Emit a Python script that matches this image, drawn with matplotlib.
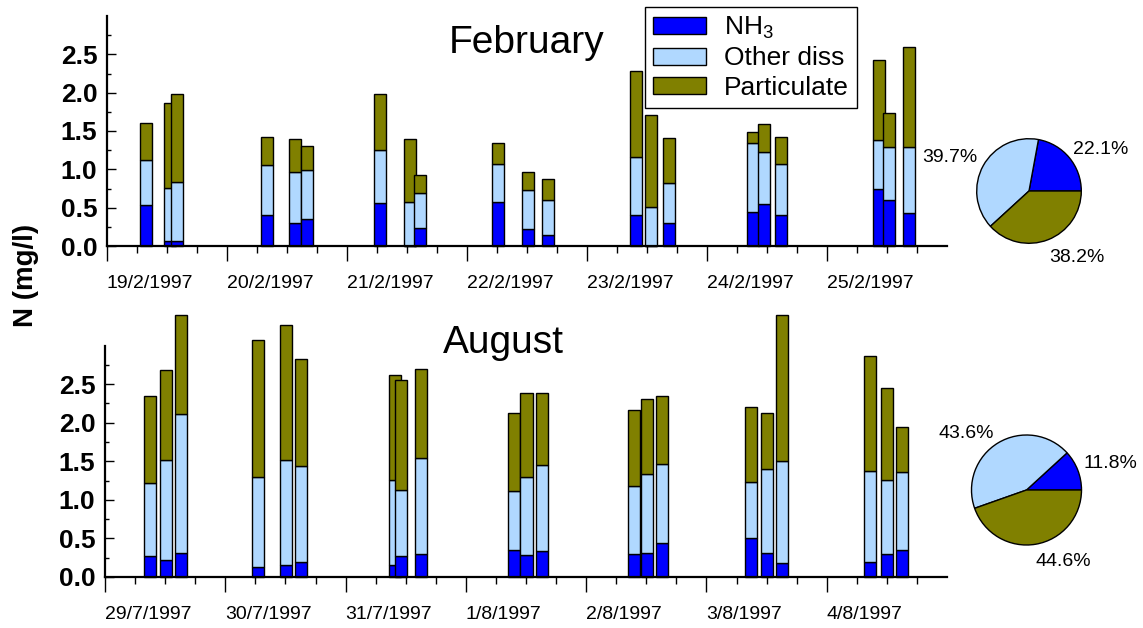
"""Stacked N fractions per sampling, February vs August, with mean-share pies."""

import matplotlib

matplotlib.use("Agg")
import matplotlib.pyplot as plt
import numpy as np
from matplotlib.patches import Patch

plt.rcParams["font.family"] = ["Liberation Sans", "DejaVu Sans"]
plt.rcParams["mathtext.default"] = "regular"

# --- data -------------------------------------------------------------
FEB_DAYS = ["19/2/1997", "20/2/1997", "21/2/1997", "22/2/1997",
            "23/2/1997", "24/2/1997", "25/2/1997"]
# sampling hour within each day, 3 samples per day
FEB_HOURS = [7.8, 12.5, 14.0, 8.0, 13.5, 15.9, 6.5, 12.5, 14.6,
             6.1, 12.1, 16.1, 9.8, 12.8, 16.3, 9.1, 11.3, 14.8,
             10.4, 12.4, 16.4]
FEB_NH3 = [0.53, 0.07, 0.07, 0.40, 0.30, 0.35, 0.56, 0.00, 0.23,
           0.57, 0.22, 0.15, 0.41, 0.00, 0.30, 0.44, 0.55, 0.41,
           0.75, 0.60, 0.43]
FEB_OTHER = [0.59, 0.69, 0.76, 0.66, 0.66, 0.64, 0.69, 0.57, 0.46,
             0.50, 0.51, 0.45, 0.75, 0.51, 0.52, 0.90, 0.67, 0.66,
             0.63, 0.69, 0.86]
FEB_PART = [0.49, 1.10, 1.15, 0.36, 0.44, 0.32, 0.73, 0.83, 0.24,
            0.28, 0.23, 0.28, 1.12, 1.20, 0.59, 0.15, 0.37, 0.35,
            1.04, 0.45, 1.31]
FEB_PIE = [22.1, 39.7, 38.2]

AUG_DAYS = ["29/7/1997", "30/7/1997", "31/7/1997", "1/8/1997",
            "2/8/1997", "3/8/1997", "4/8/1997"]
AUG_HOURS = [9.0, 12.1, 15.2, 6.6, 12.2, 15.1, 9.9, 11.1, 15.1,
             9.7, 12.1, 15.2, 9.6, 12.2, 15.2, 8.8, 12.1, 15.1,
             8.7, 12.1, 15.1]
AUG_NH3 = [0.27, 0.22, 0.31, 0.13, 0.16, 0.19, 0.16, 0.27, 0.30,
           0.35, 0.28, 0.34, 0.30, 0.31, 0.44, 0.50, 0.31, 0.18,
           0.20, 0.30, 0.35]
AUG_OTHER = [0.95, 1.30, 1.80, 1.16, 1.36, 1.25, 1.10, 0.86, 1.24,
             0.77, 1.02, 1.11, 0.88, 1.03, 1.02, 0.73, 1.09, 1.32,
             1.17, 0.96, 1.01]
AUG_PART = [1.13, 1.16, 1.29, 1.78, 1.74, 1.39, 1.36, 1.42, 1.16,
            1.00, 1.08, 0.93, 0.99, 0.97, 0.89, 0.97, 0.72, 1.89,
            1.49, 1.19, 0.59]
AUG_PIE = [11.8, 43.6, 44.6]

SERIES = [r"$NH_3$", "Other diss", "Particulate"]
COLORS = ["#0000ff", "#b0d8ff", "#808000"]

W, H = 1143, 628


def _fx(px):
    return px / W


def _fy(py):
    return 1 - py / H


def draw_panel(ax, days, hours, nh3, other, part):
    x = np.repeat(np.arange(len(days)), 3) + np.asarray(hours) / 24.0
    for i in range(len(x)):
        bottom = 0.0
        for val, col in zip((nh3[i], other[i], part[i]), COLORS):
            ax.bar(x[i], val, width=0.1, bottom=bottom, color=col,
                   edgecolor="black", linewidth=1.0, clip_on=False,
                   zorder=3 + i)
            bottom += val
    ax.set_xlim(0, len(days))
    ax.set_ylim(0, 3.0)
    for s in ("top", "right"):
        ax.spines[s].set_visible(False)
    for s in ("left", "bottom"):
        ax.spines[s].set_linewidth(1.6)
    ax.spines["bottom"].set_zorder(50)

    ax.set_yticks(np.arange(0, 2.51, 0.5))
    ax.set_yticks(np.arange(0.25, 2.8, 0.5), minor=True)
    ax.set_yticklabels([f"{v:.1f}" for v in np.arange(0, 2.51, 0.5)],
                       fontsize=19, fontweight="bold")
    ax.tick_params(axis="y", which="major", direction="in", length=6.5,
                   width=1, pad=7)
    ax.tick_params(axis="y", which="minor", direction="in", length=3,
                   width=1)

    ax.set_xticks(np.arange(len(days)))
    ax.set_xticks([d + q for d in range(len(days)) for q in (0.25, 0.5, 0.75)],
                  minor=True)
    ax.set_xticklabels(days, fontsize=14, ha="left")
    ax.tick_params(axis="x", which="major", direction="out", length=11,
                   width=1, pad=10)
    ax.tick_params(axis="x", which="minor", direction="out", length=5,
                   width=1)


def draw_pie(cx, cy, r, shares, label_pos):
    pax = fig.add_axes([_fx(cx - r), _fy(cy + r), 2 * r / W, 2 * r / H])
    pax.pie(shares, colors=COLORS, startangle=0, counterclock=True,
            wedgeprops=dict(edgecolor="black", linewidth=1.0))
    pax.set_xlim(-1, 1)
    pax.set_ylim(-1, 1)
    for val, (lx, ly) in zip(shares, label_pos):
        pax.text(lx, ly, f"{val:.1f}%", fontsize=14, ha="center",
                 va="center")


fig = plt.figure(figsize=(W / 100, H / 100), dpi=100)

ax_feb = fig.add_axes([_fx(107), _fy(246), 840 / W, 230 / H])
draw_panel(ax_feb, FEB_DAYS, FEB_HOURS, FEB_NH3, FEB_OTHER, FEB_PART)
ax_aug = fig.add_axes([_fx(105), _fy(577), 842 / W, 231.5 / H])
draw_panel(ax_aug, AUG_DAYS, AUG_HOURS, AUG_NH3, AUG_OTHER, AUG_PART)

fig.text(_fx(527), _fy(53), "February", fontsize=28, ha="center",
         va="baseline")
fig.text(_fx(503), _fy(353), "August", fontsize=28, ha="center",
         va="baseline")
fig.text(_fx(26), _fy(275), "N (mg/l)", fontsize=20, fontweight="bold",
         rotation=90, ha="center", va="center")

handles = [Patch(facecolor=c, edgecolor="black", linewidth=1.0) for c in COLORS]
leg = fig.legend(handles, SERIES, loc="upper left",
                 bbox_to_anchor=(_fx(645), _fy(7)), fontsize=19,
                 handlelength=2.0, handleheight=0.62, labelspacing=0.2,
                 handletextpad=0.7, borderpad=0.3, borderaxespad=0,
                 fancybox=False, framealpha=1)
leg.get_frame().set_edgecolor("black")
leg.get_frame().set_linewidth(1.0)

draw_pie(1029, 191, 52.3, FEB_PIE, [(1.37, 0.80), (-1.51, 0.64), (0.92, -1.27)])
draw_pie(1026.5, 490, 55, AUG_PIE, [(1.52, 0.49), (-1.09, 1.03), (0.67, -1.30)])

fig.savefig("out.png", dpi=100)
